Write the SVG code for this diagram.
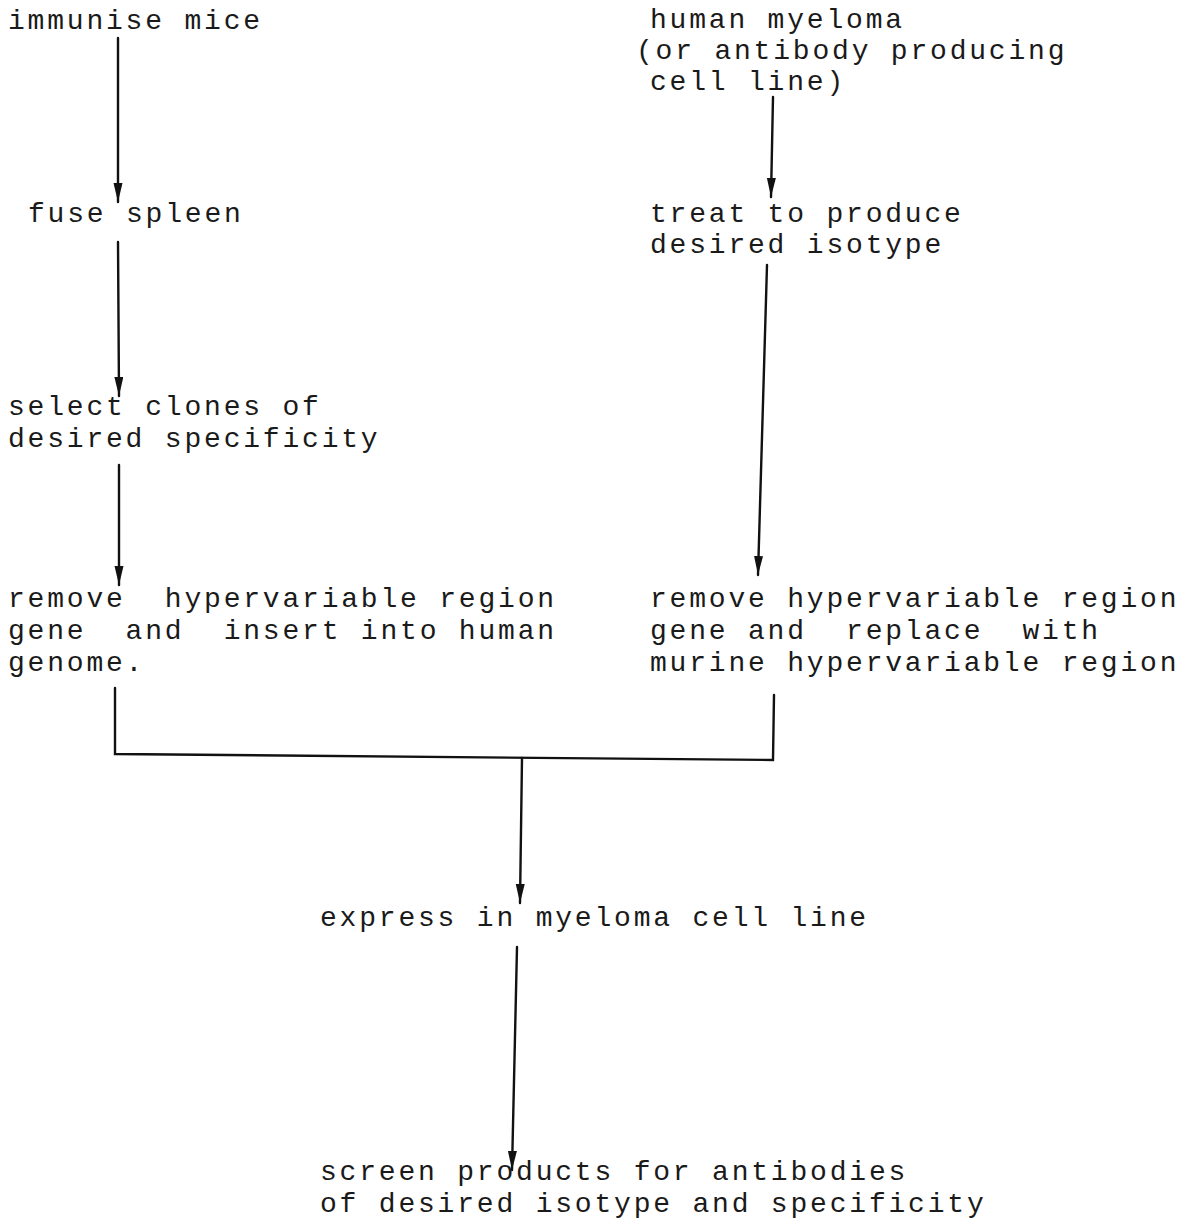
<svg xmlns="http://www.w3.org/2000/svg" width="1193" height="1223" viewBox="0 0 1193 1223">
<style>
text{font-family:"Liberation Mono","Courier New",monospace;font-size:28px;letter-spacing:2.8px;fill:#1a1a1a;white-space:pre}
.c{stroke:#111;stroke-width:2.4;fill:none;stroke-linecap:round}
</style>
<defs>
<marker id="ah" markerUnits="userSpaceOnUse" markerWidth="20" markerHeight="10" refX="19" refY="4.5" orient="auto">
<path d="M0,0 L19,4.5 L0,9 z" fill="#111"/>
</marker>
</defs>
<rect width="1193" height="1223" fill="#fff"/>
<g id="n1"><text x="8" y="29">immunise mice</text></g>
<g id="n2"><text x="28" y="222">fuse spleen</text></g>
<g id="n3"><text x="8" y="415">select clones of</text><text x="8" y="447">desired specificity</text></g>
<g id="n4"><text x="8" y="607">remove  hypervariable region</text><text x="8" y="639">gene  and  insert into human</text><text x="8" y="671">genome.</text></g>
<g id="n5"><text x="650" y="28">human myeloma</text><text x="636" y="59">(or antibody producing</text><text x="650" y="90">cell line)</text></g>
<g id="n6"><text x="650" y="222">treat to produce</text><text x="650" y="253">desired isotype</text></g>
<g id="n7"><text x="650" y="607">remove hypervariable region</text><text x="650" y="639">gene and  replace  with</text><text x="650" y="671">murine hypervariable region</text></g>
<g id="n8"><text x="320" y="926">express in myeloma cell line</text></g>
<g id="n9"><text x="320" y="1180">screen products for antibodies</text><text x="320" y="1212">of desired isotype and specificity</text></g>
<g id="connectors">
<line class="c" x1="118" y1="38" x2="118" y2="202" marker-end="url(#ah)"/>
<line class="c" x1="118" y1="242" x2="119" y2="396" marker-end="url(#ah)"/>
<line class="c" x1="119" y1="465" x2="119" y2="585" marker-end="url(#ah)"/>
<line class="c" x1="773" y1="97" x2="771" y2="197" marker-end="url(#ah)"/>
<line class="c" x1="767" y1="265" x2="758" y2="575" marker-end="url(#ah)"/>
<polyline class="c" points="115,688 115,754 773,760 774,695"/>
<line class="c" x1="522" y1="758" x2="520" y2="903" marker-end="url(#ah)"/>
<line class="c" x1="517" y1="947" x2="512" y2="1170" marker-end="url(#ah)"/>
</g>
</svg>
